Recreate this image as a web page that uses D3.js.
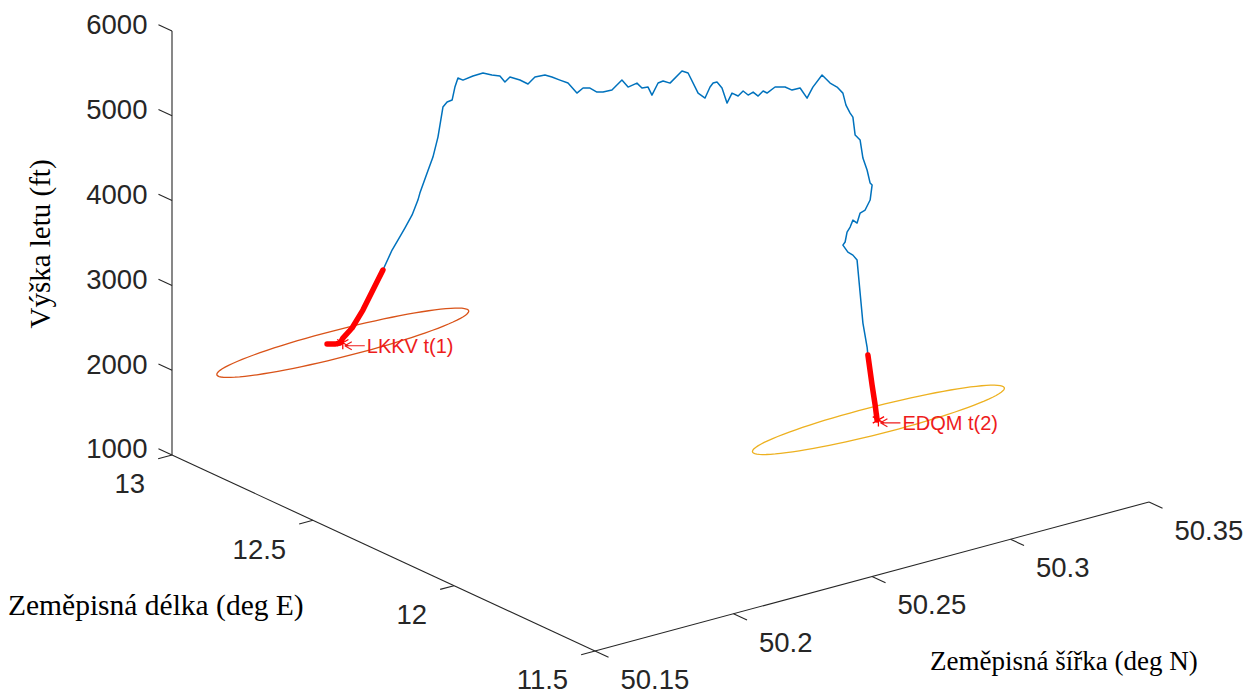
<!DOCTYPE html>
<html>
<head>
<meta charset="utf-8">
<script src="https://cdn.jsdelivr.net/npm/d3@7"></script>
<style>
  body { margin: 0; background: #fff; }
</style>
</head>
<body>
<div id="chart"></div>
<script>
// axis ticks
var lonTicks = [11.5, 12, 12.5, 13];
var latTicks = [50.15, 50.2, 50.25, 50.3, 50.35];
var altTicks = [1000, 2000, 3000, 4000, 5000, 6000];

// flight track (deg N, deg E, ft)
var trackLat = [50.2005, 50.2017, 50.2026, 50.2030, 50.2045, 50.2062, 50.2078, 50.2094,
  50.2109, 50.2118, 50.2129, 50.2141, 50.2150, 50.2153, 50.2165, 50.2174, 50.2182, 50.2190,
  50.2197, 50.2205, 50.2209, 50.2214, 50.2222, 50.2238, 50.2254, 50.2268, 50.2281, 50.2289,
  50.2297, 50.2313, 50.2326, 50.2337, 50.2353, 50.2364, 50.2377, 50.2390, 50.2404, 50.2414,
  50.2425, 50.2436, 50.2446, 50.2460, 50.2476, 50.2486, 50.2500, 50.2508, 50.2518, 50.2524,
  50.2534, 50.2542, 50.2553, 50.2572, 50.2582, 50.2598, 50.2609, 50.2617, 50.2622, 50.2628,
  50.2636, 50.2644, 50.2652, 50.2662, 50.2670, 50.2678, 50.2686, 50.2694, 50.2702, 50.2708,
  50.2721, 50.2737,
  50.2748, 50.2761, 50.2772, 50.2781, 50.2796, 50.2809, 50.2820, 50.2829, 50.2834, 50.2841,
  50.2845, 50.2849, 50.2857, 50.2861, 50.2868, 50.2873, 50.2876, 50.2873, 50.2865, 50.2857,
  50.2852, 50.2845, 50.2841, 50.2836, 50.2833, 50.2829, 50.2837, 50.2845, 50.2852, 50.2857,
  50.2861, 50.2868, 50.2869, 50.2876, 50.2881, 50.2884];
var trackLon = [12.9462, 12.9304, 12.9205, 12.9146, 12.8968, 12.8751, 12.8553, 12.8355,
  12.8178, 12.8059, 12.7921, 12.7782, 12.7664, 12.7624, 12.7486, 12.7367, 12.7268, 12.7170,
  12.7091, 12.6992, 12.6932, 12.6873, 12.6774, 12.6577, 12.6379, 12.6201, 12.6043, 12.5944,
  12.5845, 12.5648, 12.5490, 12.5351, 12.5154, 12.5015, 12.4857, 12.4699, 12.4521, 12.4402,
  12.4264, 12.4126, 12.4007, 12.3829, 12.3632, 12.3513, 12.3335, 12.3236, 12.3118, 12.3039,
  12.2920, 12.2821, 12.2683, 12.2446, 12.2327, 12.2129, 12.1991, 12.1892, 12.1833, 12.1754,
  12.1655, 12.1556, 12.1457, 12.1339, 12.1240, 12.1141, 12.1042, 12.0944, 12.0845, 12.0766,
  12.0608, 12.0410,
  12.0272, 12.0113, 11.9975, 11.9857, 11.9679, 11.9521, 11.9382, 11.9264, 11.9204, 11.9125,
  11.9066, 11.9026, 11.8928, 11.8868, 11.8789, 11.8730, 11.8690, 11.8730, 11.8829, 11.8928,
  11.8987, 11.9066, 11.9125, 11.9185, 11.9224, 11.9264, 11.9165, 11.9066, 11.8987, 11.8928,
  11.8868, 11.8789, 11.8769, 11.8690, 11.8631, 11.8592];
var trackAlt = [1948, 1961, 1981, 2045, 2178, 2408, 2660, 2913,
  3163, 3291, 3444, 3609, 3795, 3881, 4129, 4327, 4571, 4933,
  4999, 5030, 5189, 5300, 5284, 5348, 5400, 5391, 5392, 5330,
  5397, 5378, 5344, 5438, 5478, 5466, 5443, 5421, 5318, 5387,
  5398, 5363, 5372, 5411, 5545, 5472, 5534, 5484, 5505, 5417,
  5569, 5601, 5588, 5750, 5736, 5516, 5469, 5607, 5659, 5677,
  5615, 5446, 5572, 5547, 5614, 5575, 5618, 5579, 5647, 5630,
  5714, 5730,
  5706, 5743, 5636, 5776, 5932, 5851, 5815, 5754, 5618, 5530,
  5488, 5279, 5228, 5021, 4886, 4737, 4717, 4537, 4411, 4367,
  4244, 4273, 4186, 4122, 4001, 3962, 3888, 3860, 3808, 3424,
  3075, 2799, 2706, 2359, 2128, 1954];
var departEnd = 7;     // red part after take-off: indices 0..7
var arriveStart = 102; // red part before landing: indices 102..end

// airports
var airportLat = [50.203, 50.2886];
var airportLon = [12.915, 11.8564];
var airportAlt = [1989, 1959];
var airportLabels = ["LKKV t(1)", "EDQM t(2)"];
var airportColors = ["#D95319", "#EDB120"];
var zoneRadiusKm = 5;

var W = 1258, H = 696;

var svg = d3.select("#chart").append("svg")
    .attr("width", W)
    .attr("height", H);

// scales for each axis -> 0..1 along the box edge
var u = d3.scaleLinear().domain([13, 11.5]).range([0, 1]),
    v = d3.scaleLinear().domain([50.15, 50.35]).range([0, 1]),
    w = d3.scaleLinear().domain([1000, 6000]).range([0, 1]);

// projected box edges (orthographic view)
var origin = [172, 455],
    eU = [423, 196],
    eV = [554, -149],
    eW = [0, -424];

function proj(lon, lat, alt) {
  var a = u(lon), b = v(lat), c = w(alt);
  return [origin[0] + a * eU[0] + b * eV[0] + c * eW[0],
          origin[1] + a * eU[1] + b * eV[1] + c * eW[1]];
}

var axisColor = "#262626";
var tickFont = "'Liberation Sans', Arial, Helvetica, sans-serif";
var serif = "'Liberation Serif', 'Times New Roman', serif";

var axes = svg.append("g").attr("class", "axes")
    .attr("stroke", axisColor).attr("stroke-width", 1.1).attr("fill", "none");

function seg(p, q) {
  axes.append("line").attr("x1", p[0]).attr("y1", p[1]).attr("x2", q[0]).attr("y2", q[1]);
}

// axis lines
seg(proj(13, 50.15, 1000), proj(13, 50.15, 6000));
seg(proj(13, 50.15, 1000), proj(11.5, 50.15, 1000));
seg(proj(11.5, 50.15, 1000), proj(11.5, 50.35, 1000));

var labels = svg.append("g")
    .attr("font-family", tickFont)
    .attr("font-size", "27.5px")
    .attr("fill", axisColor);

// altitude ticks
altTicks.forEach(function(t) {
  var p = proj(13, 50.15, t), q = proj(13.048, 50.15, t);
  seg(p, q);
  labels.append("text")
    .attr("x", q[0] - 11).attr("y", q[1])
    .attr("dy", "0.35em")
    .style("text-anchor", "end")
    .text(t);
});

// longitude ticks
lonTicks.forEach(function(t) {
  var p = proj(t, 50.15, 1000), q = proj(t, 50.145, 1000);
  seg(p, q);
  labels.append("text")
    .attr("x", q[0] - 13).attr("y", q[1] + 25)
    .attr("dy", "0.35em")
    .style("text-anchor", "end")
    .text(t);
});

// latitude ticks
latTicks.forEach(function(t) {
  var p = proj(11.5, t, 1000), q = proj(11.452, t, 1000);
  seg(p, q);
  labels.append("text")
    .attr("x", q[0] + 12).attr("y", q[1] + 22)
    .attr("dy", "0.35em")
    .style("text-anchor", "start")
    .text(t);
});

// axis titles
svg.append("text")
  .attr("transform", "translate(40,244) rotate(-90)")
  .attr("font-family", serif).attr("font-size", "29px")
  .style("text-anchor", "middle").attr("dy", "0.35em")
  .text("Výška letu (ft)");

svg.append("text")
  .attr("x", 8).attr("y", 605)
  .attr("font-family", serif).attr("font-size", "29.5px")
  .attr("dy", "0.35em")
  .text("Zeměpisná délka (deg E)");

svg.append("text")
  .attr("x", 930).attr("y", 661)
  .attr("font-family", serif).attr("font-size", "27px")
  .attr("dy", "0.35em")
  .text("Zeměpisná šířka (deg N)");

var line = d3.line()
  .x(function(i) { return proj(trackLon[i], trackLat[i], trackAlt[i])[0]; })
  .y(function(i) { return proj(trackLon[i], trackLat[i], trackAlt[i])[1]; });

// zone circles round the airports
airportLat.forEach(function(lat, k) {
  var ring = d3.range(0, 361, 4).map(function(a) {
    var r = a * Math.PI / 180;
    var dLat = zoneRadiusKm / 111.32 * Math.sin(r);
    var dLon = zoneRadiusKm / (111.32 * Math.cos(lat * Math.PI / 180)) * Math.cos(r);
    return proj(airportLon[k] + dLon, lat + dLat, airportAlt[k]);
  });
  svg.append("path")
    .attr("d", d3.line()(ring) + "Z")
    .attr("fill", "none")
    .attr("stroke", airportColors[k])
    .attr("stroke-width", 1.3);
});

var idx = d3.range(trackLat.length);

svg.append("path")
  .datum(idx.slice(departEnd, arriveStart + 1))
  .attr("d", line)
  .attr("fill", "none")
  .attr("stroke", "#0072BD")
  .attr("stroke-width", 1.5)
  .attr("stroke-linejoin", "round");

[idx.slice(0, departEnd + 1), idx.slice(arriveStart)].forEach(function(part) {
  svg.append("path")
    .datum(part)
    .attr("d", line)
    .attr("fill", "none")
    .attr("stroke", "#FF0000")
    .attr("stroke-width", 5.5)
    .attr("stroke-linejoin", "round")
    .attr("stroke-linecap", "round");
});

// airport markers and labels
airportLat.forEach(function(lat, k) {
  var p = proj(airportLon[k], lat, airportAlt[k]);
  var g = svg.append("g")
    .attr("transform", "translate(" + p[0] + "," + p[1] + ")")
    .attr("stroke", "#EE1C1C")
    .attr("fill", "none");
  g.append("path")
    .attr("d", d3.symbol(d3.symbolAsterisk, 120)())
    .attr("stroke", "#FF0000")
    .attr("stroke-width", 1.3);
  // MATLAB style left arrow before the text
  g.append("path")
    .attr("d", "M2,3H22M2,3l7,-4M2,3l7,4")
    .attr("stroke-width", 1.2);
  g.append("text")
    .attr("x", 24).attr("y", 3)
    .attr("dy", "0.35em")
    .attr("stroke", "none")
    .attr("font-family", tickFont)
    .attr("font-size", "20px")
    .attr("fill", "#EE1C1C")
    .text(airportLabels[k]);
});
</script>
</body>
</html>
